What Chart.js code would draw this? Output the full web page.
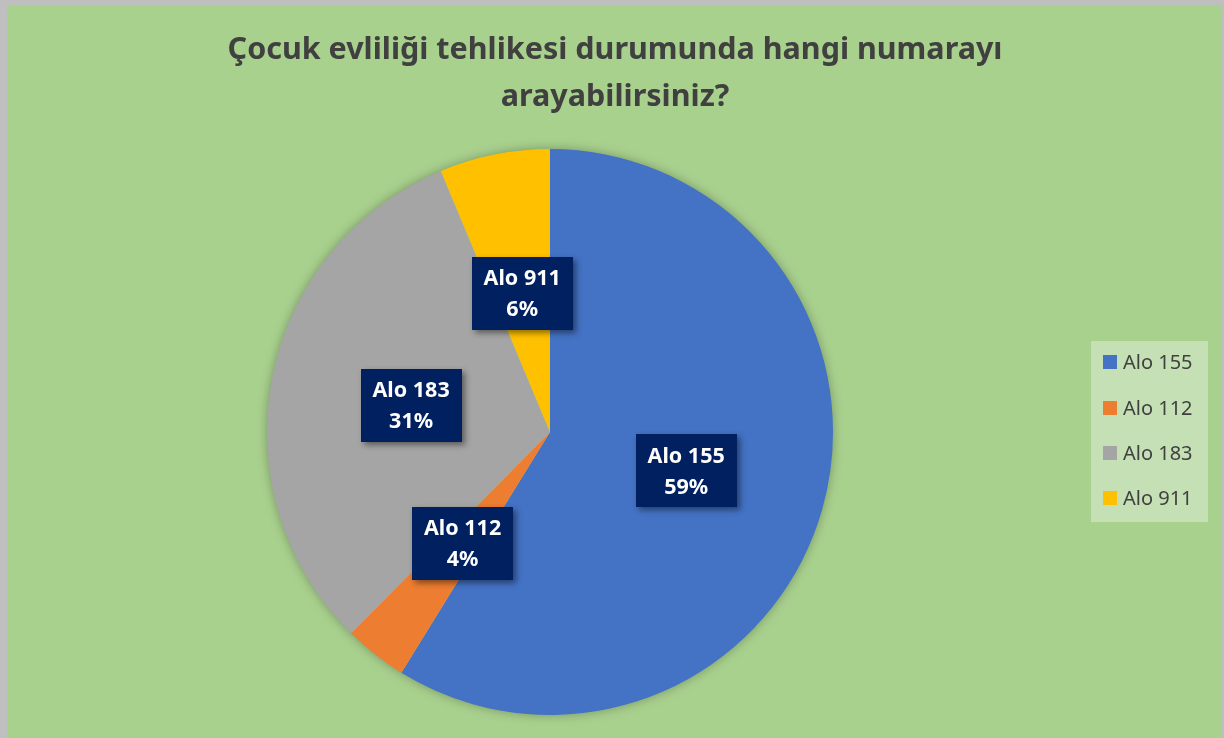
<!DOCTYPE html>
<html>
<head>
<meta charset="utf-8">
<script src="https://cdn.jsdelivr.net/npm/chart.js@4/dist/chart.umd.min.js"></script>
<style>
html,body{margin:0;padding:0;background:#fff;}
#wrap{width:1224px;height:738px;}
</style>
</head>
<body>
<div id="wrap"><canvas id="c" width="1224" height="738"></canvas></div>
<script>
const categories = ["Alo 155", "Alo 112", "Alo 183", "Alo 911"];
const values = [58.8, 3.6, 31.3, 6.3];
const percentLabels = ["59%", "4%", "31%", "6%"];
const colors = ["#4472C4", "#ED7D31", "#A5A5A5", "#FFC000"];
const titleLines = ["Çocuk evliliği tehlikesi durumunda hangi numarayı", "arayabilirsiniz?"];

const FONT = "'Noto Sans', sans-serif";

const bgPlugin = {
  id: 'bg',
  beforeDraw(chart) {
    const ctx = chart.ctx;
    ctx.save();
    ctx.fillStyle = '#BFBFBF';
    ctx.fillRect(0, 0, chart.width, chart.height);
    ctx.fillStyle = '#A9D18E';
    ctx.fillRect(7, 5, 1215, 733);
    ctx.fillStyle = '#404040';
    ctx.font = "bold 30.5px " + FONT;
    ctx.textAlign = 'center';
    ctx.textBaseline = 'middle';
    ctx.fillText(titleLines[0], 615, 50);
    ctx.fillText(titleLines[1], 615, 97);
    ctx.restore();
  },
  beforeDatasetsDraw(chart) {
    const arc = chart.getDatasetMeta(0).data[0];
    if (!arc) return;
    const ctx = chart.ctx;
    ctx.save();
    ctx.shadowColor = 'rgba(0,0,0,0.35)';
    ctx.shadowBlur = 12;
    ctx.fillStyle = '#A9D18E';
    ctx.beginPath();
    ctx.arc(arc.x, arc.y, arc.outerRadius - 1, 0, Math.PI * 2);
    ctx.fill();
    ctx.restore();
  },
  afterDatasetsDraw(chart) {
    const ctx = chart.ctx;
    const meta = chart.getDatasetMeta(0);
    ctx.save();
    meta.data.forEach((arc, i) => {
      const mid = (arc.startAngle + arc.endAngle) / 2;
      const r = arc.outerRadius * 0.5;
      const cx = arc.x + Math.cos(mid) * r;
      const cy = arc.y + Math.sin(mid) * r;
      const w = 101, h = 73;
      ctx.save();
      ctx.shadowColor = 'rgba(0,0,0,0.45)';
      ctx.shadowBlur = 6;
      ctx.shadowOffsetX = 3;
      ctx.shadowOffsetY = 3;
      ctx.fillStyle = '#002060';
      ctx.fillRect(Math.round(cx - w / 2), Math.round(cy - h / 2), w, h);
      ctx.restore();
      ctx.fillStyle = '#FFFFFF';
      ctx.font = "bold 21.5px " + FONT;
      ctx.textAlign = 'center';
      ctx.textBaseline = 'middle';
      ctx.fillText(chart.data.labels[i], cx, cy - 14);
      ctx.fillText(percentLabels[i], cx, cy + 17);
    });
    ctx.restore();
  },
  afterDraw(chart) {
    const ctx = chart.ctx;
    ctx.save();
    ctx.fillStyle = '#C5E0B4';
    ctx.fillRect(1091, 341, 117, 181);
    const ys = [362, 408, 453, 498];
    ctx.font = "20px " + FONT;
    ctx.textBaseline = 'middle';
    ctx.textAlign = 'left';
    chart.data.labels.forEach((lab, i) => {
      ctx.fillStyle = colors[i];
      ctx.fillRect(1103, ys[i] - 7, 14, 14);
      ctx.fillStyle = '#404040';
      ctx.fillText(lab, 1123, ys[i] + 1);
    });
    ctx.restore();
  }
};

new Chart(document.getElementById('c'), {
  type: 'pie',
  data: {
    labels: categories,
    datasets: [{
      data: values,
      backgroundColor: colors,
      borderWidth: 0
    }]
  },
  options: {
    responsive: false,
    animation: false,
    layout: { padding: { left: 267, right: 391, top: 149, bottom: 23 } },
    plugins: {
      legend: { display: false },
      title: { display: false },
      tooltip: { enabled: false }
    }
  },
  plugins: [bgPlugin]
});
</script>
</body>
</html>
